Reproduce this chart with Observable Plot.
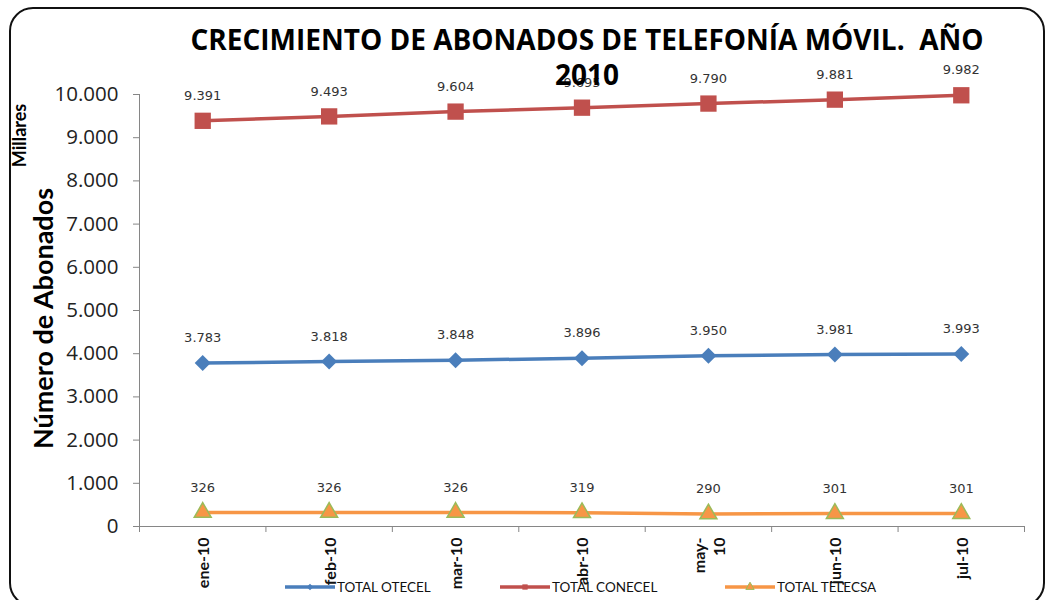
<!DOCTYPE html>
<html><head><meta charset="utf-8">
<script src="https://cdn.jsdelivr.net/npm/d3@7"></script>
<script src="https://cdn.jsdelivr.net/npm/@observablehq/plot@0.6"></script>
<style>
html,body{margin:0;padding:0;background:#fff;overflow:hidden;width:1047px;height:600px;}
#wrap{position:relative;width:1047px;height:600px;}
#chart{position:absolute;left:0;top:0;}
#frame{position:absolute;left:9px;top:7px;width:1036px;height:600px;border:2px solid #111;border-radius:24px;box-sizing:border-box;pointer-events:none}
.leg{position:absolute;top:579px;height:16px;display:flex;align-items:center;font-family:Lato,sans-serif;font-size:13.5px;color:#111;white-space:nowrap}
.leg svg{margin-right:2px}
</style>
</head><body>
<div id="wrap"><div id="chart"></div><div id="frame"></div></div>
<script>
const months = ["ene-10","feb-10","mar-10","abr-10","may-\n10","jun-10","jul-10"];
const otecel  = [3783, 3818, 3848, 3896, 3950, 3981, 3993];
const conecel = [9391, 9493, 9604, 9695, 9790, 9881, 9982];
const telecsa = [326, 326, 326, 319, 290, 301, 301];
const seriesNames = ["TOTAL OTECEL", "TOTAL CONECEL", "TOTAL TELECSA"];
const yTicks = d3.range(0, 10001, 1000);
const titleLines = ["CRECIMIENTO DE ABONADOS DE TELEFONÍA MÓVIL.\u00a0 AÑO", "2010"];
const yLabel = "Número de Abonados";
const unitLabel = "Millares";

const colors = ["#4A7EBB", "#C0504D", "#F79646"];
const symbols = ["diamond2", "square", "triangle"];
const radii = [7.2, 9.2, 6.3];
const symStroke = ["none", "none", "#9BBB59"];

const seriesVals = [otecel, conecel, telecsa];
const rows = [];
seriesVals.forEach((vals, s) => vals.forEach((v, i) => rows.push({s, series: seriesNames[s], i, v})));
const boundaries = months.map((_, i) => i - 0.5).concat([months.length - 0.5]);
const fmt = d => d3.format(",")(d).replace(/,/g, ".");

const marks = [
  Plot.axisY({ticks: yTicks, tickSize: 6, tickPadding: 15, tickFormat: fmt, fontSize: 20.5, fontFamily: "Open Sans", stroke: "#868686", fill: "#222", label: null}),
  Plot.axisX({ticks: boundaries, tickSize: 6, tickFormat: () => "", stroke: "#868686", label: null}),
  Plot.ruleY([0], {stroke: "#868686"}),
  Plot.ruleX([-0.5], {stroke: "#868686"}),
  Plot.line(rows, {x: "i", y: "v", z: "series", stroke: d => colors[d.s], strokeWidth: 3.5})
];
seriesNames.forEach((name, s) => {
  marks.push(Plot.dot(rows.filter(d => d.s === s), {x: "i", y: "v", symbol: symbols[s], r: radii[s], fill: colors[s], stroke: symStroke[s], strokeWidth: 1.5}));
});
marks.push(
  Plot.text(rows, {x: "i", y: "v", text: d => fmt(d.v), dy: -25, fontFamily: "DejaVu Sans", fontSize: 13, fill: "#333"}),
  Plot.text(months, {x: (d, i) => i, y: () => 0, text: d => d, rotate: -90, textAnchor: "end", dy: 11, fontWeight: "bold", fontSize: 16, lineHeight: 1.25, fill: "#111"}),
  Plot.text([yLabel], {frameAnchor: "left", textAnchor: "middle", lineAnchor: "middle", rotate: -90, dx: -95, dy: 8, fontSize: 27, fontWeight: "bold", fill: "#000"}),
  Plot.text([unitLabel], {frameAnchor: "left", textAnchor: "middle", lineAnchor: "middle", rotate: -90, dx: -119, dy: -175, fontSize: 18, fontWeight: "bold", fill: "#000"}),
  Plot.text([titleLines[0]], {frameAnchor: "top", lineAnchor: "middle", dx: 5, dy: -53, fontSize: 28, fontFamily: "Open Sans", fontWeight: "bold", fill: "#000"}),
  Plot.text([titleLines[1]], {frameAnchor: "top", lineAnchor: "middle", dx: 5, dy: -18, fontSize: 28, fontFamily: "Open Sans", fontWeight: "bold", fill: "#000"})
);

const chart = Plot.plot({
  width: 1047, height: 600,
  marginLeft: 139, marginRight: 23, marginTop: 94, marginBottom: 74,
  x: {type: "linear", domain: [-0.5, months.length - 0.5], axis: null},
  y: {domain: [0, 10000], axis: null},
  style: {fontFamily: "Lato, sans-serif", background: "transparent", overflow: "visible"},
  marks
});
document.getElementById("chart").appendChild(chart);

// legend
const legLeft = [285, 500, 725];
const wrap = document.getElementById("wrap");
seriesNames.forEach((name, s) => {
  const div = document.createElement("div");
  div.className = "leg";
  div.style.left = legLeft[s] + "px";
  const sym = d3.symbol(s === 0 ? d3.symbolDiamond2 : s === 1 ? d3.symbolSquare : d3.symbolTriangle, s === 2 ? 30 : 28)();
  div.innerHTML = `<svg width="50" height="16"><line x1="0" x2="50" y1="8" y2="8" stroke="${colors[s]}" stroke-width="3.5"/><path transform="translate(25,8)" d="${sym}" fill="${colors[s]}" stroke="${symStroke[s]}" stroke-width="1"/></svg><span>${name}</span>`;
  wrap.appendChild(div);
});
</script>
</body></html>
